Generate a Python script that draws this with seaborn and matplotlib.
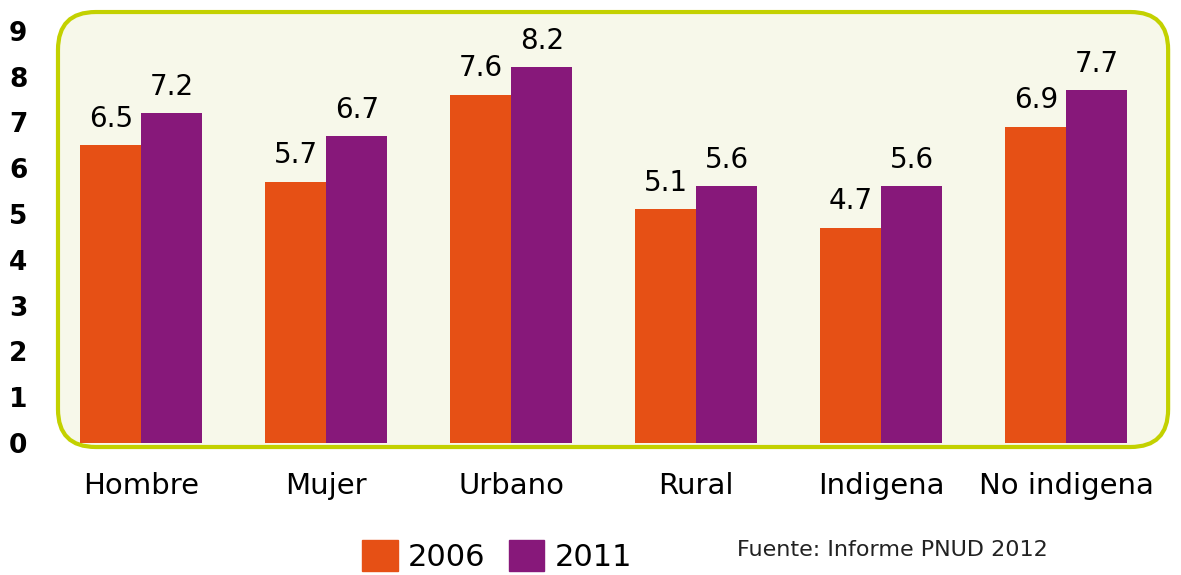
import pandas as pd
import seaborn as sns
import matplotlib.pyplot as plt
from matplotlib.patches import FancyBboxPatch

CATEGORIES = ["Hombre", "Mujer", "Urbano", "Rural", "Indigena", "No indigena"]
YEARS = ["2006", "2011"]
VALUES_2006 = [6.5, 5.7, 7.6, 5.1, 4.7, 6.9]
VALUES_2011 = [7.2, 6.7, 8.2, 5.6, 5.6, 7.7]
Y_TICKS = list(range(0, 10))
SOURCE = "Fuente: Informe PNUD 2012"

ORANGE = "#E65015"
PURPLE = "#87187A"
BOX_FACE = "#F7F8EA"
BOX_EDGE = "#C3D100"


def plot_chart():
    df = pd.DataFrame({
        "cat": CATEGORIES * 2,
        "year": [YEARS[0]] * len(CATEGORIES) + [YEARS[1]] * len(CATEGORIES),
        "val": VALUES_2006 + VALUES_2011,
    })

    sns.set_style("white")
    plt.rcParams["font.family"] = ["DejaVu Sans"]

    fig = plt.figure(figsize=(11.81, 5.75), dpi=100)
    ax = fig.add_axes([0.0491, 0.2226, 0.94, 0.7565])
    ax.patch.set_visible(False)

    # rounded panel behind the bars
    ax_w, ax_h = 1110, 435
    box = FancyBboxPatch((0, 0), 1, 1, boxstyle="round,pad=0,rounding_size=0.034",
                         mutation_aspect=ax_w / ax_h, transform=ax.transAxes,
                         facecolor=BOX_FACE, edgecolor=BOX_EDGE, linewidth=3,
                         clip_on=False, zorder=0.5)
    ax.add_patch(box)

    sns.barplot(data=df, x="cat", y="val", hue="year", hue_order=YEARS,
                palette=[ORANGE, PURPLE], width=0.66, saturation=1,
                linewidth=0, ax=ax, zorder=2)

    for cont in ax.containers:
        ax.bar_label(cont, fmt="%.1f", padding=9, fontsize=20, color="black")

    ax.set_xlim(-0.45, 5.55)
    ax.set_ylim(-0.09, 9.41)
    ax.set_yticks(Y_TICKS)
    ax.set_yticklabels([str(t) for t in Y_TICKS], fontsize=19, fontweight="bold")
    ax.tick_params(axis="y", length=0, pad=22, labelcolor="black")
    ax.tick_params(axis="x", length=0, pad=18, labelsize=21, labelcolor="black")
    for s in ax.spines.values():
        s.set_visible(False)
    ax.set_xlabel("")
    ax.set_ylabel("")

    ax.get_legend().remove()
    handles = [plt.Rectangle((0, 0), 1, 1, color=ORANGE), plt.Rectangle((0, 0), 1, 1, color=PURPLE)]
    fig.legend(handles, YEARS, loc="center", bbox_to_anchor=(0.421, 0.033), ncol=2,
               frameon=False, fontsize=22, handlelength=1.15, handleheight=1.2,
               handletextpad=0.35, columnspacing=0.75, labelcolor="black",
               borderpad=0, borderaxespad=0)

    fig.text(0.624, 0.043, SOURCE, fontsize=16, va="center", ha="left", color="#222222")

    fig.savefig("out.png", dpi=100)


if __name__ == "__main__":
    plot_chart()
